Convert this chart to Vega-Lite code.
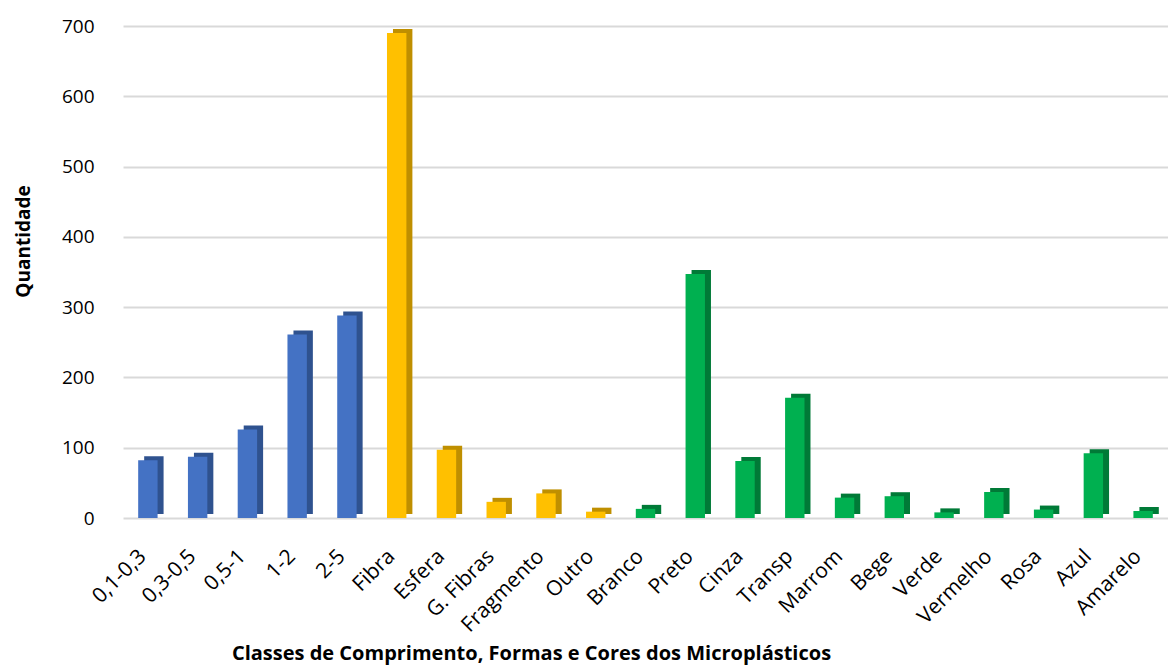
{
  "$schema": "https://vega.github.io/schema/vega-lite/v6.json",
  "width": 1045,
  "height": 492,
  "autosize": {"type": "none"},
  "padding": {"left": 123, "top": 26, "right": 0, "bottom": 147},
  "background": "white",
  "config": {"view": {"stroke": null}, "font": "Open Sans"},
  "data": {
    "values": [
      {"categoria": "0,1-0,3", "grupo": "Comprimento", "quantidade": 82},
      {"categoria": "0,3-0,5", "grupo": "Comprimento", "quantidade": 87},
      {"categoria": "0,5-1", "grupo": "Comprimento", "quantidade": 126},
      {"categoria": "1-2", "grupo": "Comprimento", "quantidade": 261},
      {"categoria": "2-5", "grupo": "Comprimento", "quantidade": 288},
      {"categoria": "Fibra", "grupo": "Forma", "quantidade": 690},
      {"categoria": "Esfera", "grupo": "Forma", "quantidade": 97},
      {"categoria": "G. Fibras", "grupo": "Forma", "quantidade": 23},
      {"categoria": "Fragmento", "grupo": "Forma", "quantidade": 35},
      {"categoria": "Outro", "grupo": "Forma", "quantidade": 9},
      {"categoria": "Branco", "grupo": "Cor", "quantidade": 13},
      {"categoria": "Preto", "grupo": "Cor", "quantidade": 347},
      {"categoria": "Cinza", "grupo": "Cor", "quantidade": 81},
      {"categoria": "Transp", "grupo": "Cor", "quantidade": 171},
      {"categoria": "Marrom", "grupo": "Cor", "quantidade": 29},
      {"categoria": "Bege", "grupo": "Cor", "quantidade": 31},
      {"categoria": "Verde", "grupo": "Cor", "quantidade": 8},
      {"categoria": "Vermelho", "grupo": "Cor", "quantidade": 37},
      {"categoria": "Rosa", "grupo": "Cor", "quantidade": 12},
      {"categoria": "Azul", "grupo": "Cor", "quantidade": 92},
      {"categoria": "Amarelo", "grupo": "Cor", "quantidade": 10}
    ]
  },
  "encoding": {
    "x": {
      "field": "categoria",
      "type": "nominal",
      "sort": null,
      "scale": {"paddingInner": 0, "paddingOuter": 0},
      "axis": {
        "title": "Classes de Comprimento, Formas e Cores dos Microplásticos",
        "titleFont": "Open Sans",
        "titleFontSize": 20,
        "titleFontWeight": "bold",
        "titleColor": "#000000",
        "titleX": 408,
        "titleY": 141,
        "titleAlign": "center",
        "titleAnchor": null,
        "titleBaseline": "alphabetic",
        "labelAngle": -45,
        "labelAlign": "right",
        "labelBaseline": "middle",
        "labelFont": "Open Sans",
        "labelFontSize": 21,
        "labelColor": "#000000",
        "labelPadding": 35,
        "labelOffset": -5,
        "labelOverlap": false,
        "domain": false,
        "ticks": false,
        "grid": false
      }
    },
    "y": {
      "field": "quantidade",
      "type": "quantitative",
      "scale": {"domain": [0, 700], "nice": false},
      "axis": {
        "title": "Quantidade",
        "titleFont": "Open Sans",
        "titleFontSize": 19,
        "titleFontWeight": "bold",
        "titleColor": "#000000",
        "titleX": -94,
        "titleY": 215,
        "titleAngle": -90,
        "titleAlign": "center",
        "titleAnchor": null,
        "titleBaseline": "alphabetic",
        "values": [0, 100, 200, 300, 400, 500, 600, 700],
        "labelFont": "Open Sans",
        "labelFontSize": 19,
        "labelColor": "#000000",
        "labelPadding": 29,
        "domain": false,
        "ticks": false,
        "grid": true,
        "gridColor": "#d9d9d9",
        "gridWidth": 2
      }
    }
  },
  "layer": [
    {
      "mark": {"type": "bar", "width": {"band": 0.39}, "xOffset": 6, "yOffset": -4},
      "encoding": {
        "color": {
          "field": "grupo",
          "type": "nominal",
          "scale": {"domain": ["Comprimento", "Forma", "Cor"], "range": ["#2f528f", "#bf8f00", "#007a37"]},
          "legend": null
        }
      }
    },
    {
      "mark": {"type": "bar", "width": {"band": 0.39}},
      "encoding": {
        "color": {
          "field": "grupo",
          "type": "nominal",
          "scale": {"domain": ["Comprimento", "Forma", "Cor"], "range": ["#4472c4", "#ffc000", "#00b050"]},
          "legend": null
        }
      }
    }
  ],
  "resolve": {"scale": {"color": "independent"}}
}
